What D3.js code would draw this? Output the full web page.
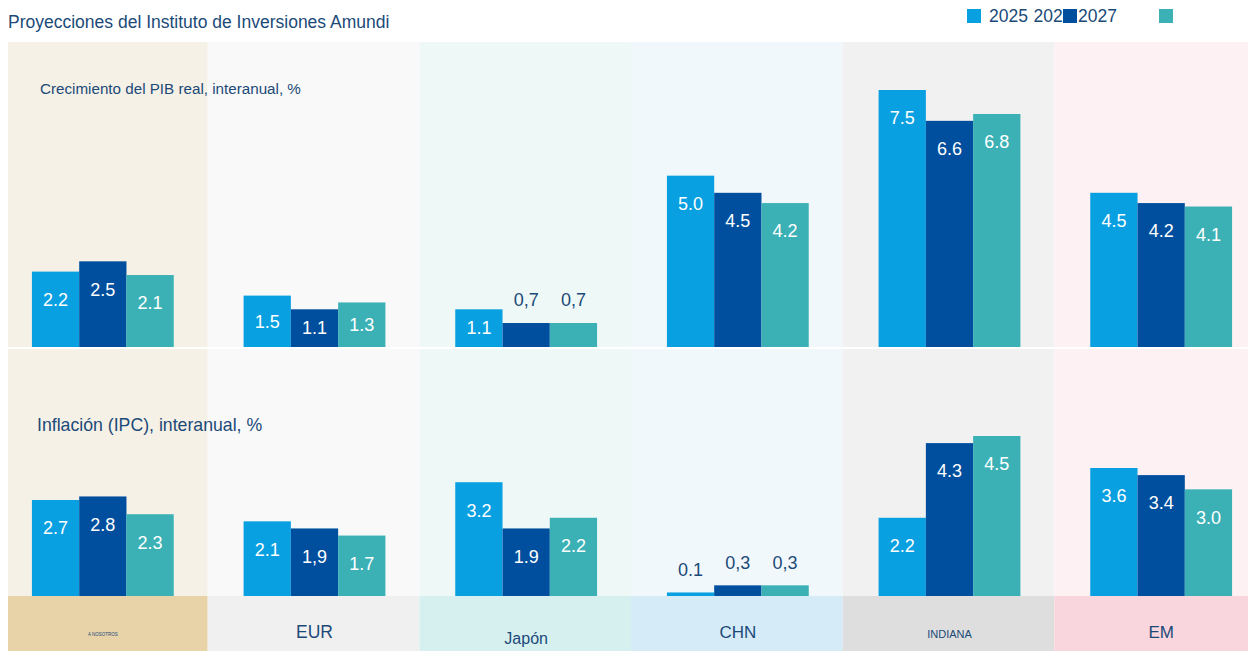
<!DOCTYPE html>
<html>
<head>
<meta charset="utf-8">
<script src="https://cdn.jsdelivr.net/npm/d3@7"></script>
<style>
  body { margin: 0; background: #fff; }
  text { font-family: "Liberation Sans", Arial, sans-serif; }
</style>
</head>
<body>
<div id="chart"></div>
<script>
// data
var regions = ["A NOSOTROS", "EUR", "Japón", "CHN", "INDIANA", "EM"];
var years = ["2025", "2026", "2027"];

var gdp2025 = [2.2, 1.5, 1.1, 5.0, 7.5, 4.5],
    gdp2026 = [2.5, 1.1, 0.7, 4.5, 6.6, 4.2],
    gdp2027 = [2.1, 1.3, 0.7, 4.2, 6.8, 4.1];
var gdpLabels = [["2.2", "2.5", "2.1"], ["1.5", "1.1", "1.3"], ["1.1", "0,7", "0,7"],
                 ["5.0", "4.5", "4.2"], ["7.5", "6.6", "6.8"], ["4.5", "4.2", "4.1"]];

var cpi2025 = [2.7, 2.1, 3.2, 0.1, 2.2, 3.6],
    cpi2026 = [2.8, 1.9, 1.9, 0.3, 4.3, 3.4],
    cpi2027 = [2.3, 1.7, 2.2, 0.3, 4.5, 3.0];
var cpiLabels = [["2.7", "2.8", "2.3"], ["2.1", "1,9", "1.7"], ["3.2", "1.9", "2.2"],
                 ["0.1", "0,3", "0,3"], ["2.2", "4.3", "4.5"], ["3.6", "3.4", "3.0"]];

// styles
var colors = ["#08a0e1", "#004f9e", "#3bb1b6"];
var panelBg = ["#f6f1e7", "#f9f9f9", "#eef8f7", "#f1f8fc", "#f1f1f1", "#fdf1f3"];
var labelBg = ["#e8d3a9", "#f0f0f0", "#d6f0f0", "#d5ebf8", "#dedede", "#f9d6dd"];
var labelSize = [4.5, 17.5, 16, 17, 11, 17];
var labelY = [634, 632, 638, 632, 634, 632];
var navy = "#1b4a78";

var width = 1248, height = 651;
var svg = d3.select("#chart").append("svg")
    .attr("width", width)
    .attr("height", height);

var x = d3.scaleBand()
    .domain(regions)
    .range([-4, 1266]);

var groupW = x.bandwidth() * 0.67;
var x1 = d3.scaleBand()
    .domain(years)
    .range([0, groupW]);

var yTop = d3.scaleLinear().domain([0, 7.5]).range([347, 90]);
var yBot = d3.scaleLinear().domain([0, 4.5]).range([596, 436]);

function clipX(r) { return Math.max(8, x(r)); }
function clipW(r) { return Math.min(width, x(r) + x.bandwidth()) - clipX(r); }

// column backgrounds
svg.append("g").selectAll("rect")
  .data(regions)
  .enter().append("rect")
    .attr("x", clipX)
    .attr("width", clipW)
    .attr("y", 42)
    .attr("height", 554)
    .attr("fill", function(d, i) { return panelBg[i]; });

svg.append("g").selectAll("rect")
  .data(regions)
  .enter().append("rect")
    .attr("x", clipX)
    .attr("width", clipW)
    .attr("y", 596)
    .attr("height", 55)
    .attr("fill", function(d, i) { return labelBg[i]; });

// separator between panels
svg.append("rect")
    .attr("x", 8).attr("width", width - 8)
    .attr("y", 347).attr("height", 2)
    .attr("fill", "#fff");

function panel(series, labels, y) {
  var rows = [];
  regions.forEach(function(r, i) {
    years.forEach(function(yr, j) {
      rows.push({ region: r, year: yr, j: j, value: series[j][i], label: labels[i][j] });
    });
  });
  var off = (x.bandwidth() - groupW) / 2 + 1;
  var g = svg.append("g");
  g.selectAll("rect")
    .data(rows)
    .enter().append("rect")
      .attr("x", function(d) { return x(d.region) + off + x1(d.year); })
      .attr("width", x1.bandwidth())
      .attr("y", function(d) { return y(d.value); })
      .attr("height", function(d) { return y(0) - y(d.value); })
      .attr("fill", function(d) { return colors[d.j]; });

  g.selectAll("text")
    .data(rows)
    .enter().append("text")
      .attr("x", function(d) { return x(d.region) + off + x1(d.year) + x1.bandwidth() / 2; })
      .attr("y", function(d) {
        var h = y(0) - y(d.value);
        if (h < 30) return y(d.value) - 23;
        return y(d.value) + Math.min(28, h / 2);
      })
      .attr("dy", "0.35em")
      .attr("text-anchor", "middle")
      .attr("font-size", 18)
      .attr("fill", function(d) { return (y(0) - y(d.value)) < 30 ? navy : "#fff"; })
      .text(function(d) { return d.label; });
}

panel([gdp2025, gdp2026, gdp2027], gdpLabels, yTop);
panel([cpi2025, cpi2026, cpi2027], cpiLabels, yBot);

// region labels
svg.append("g").selectAll("text")
  .data(regions)
  .enter().append("text")
    .attr("x", function(d) { return x(d) + x.bandwidth() / 2 + 1; })
    .attr("y", function(d, i) { return labelY[i]; })
    .attr("dy", "0.35em")
    .attr("text-anchor", "middle")
    .attr("font-size", function(d, i) { return labelSize[i]; })
    .attr("fill", navy)
    .text(function(d) { return d; });

// titles
svg.append("text")
    .attr("x", 8).attr("y", 22).attr("dy", "0.35em")
    .attr("font-size", 17.5).attr("fill", navy)
    .text("Proyecciones del Instituto de Inversiones Amundi");

svg.append("text")
    .attr("x", 40).attr("y", 89).attr("dy", "0.35em")
    .attr("font-size", 15.2).attr("fill", navy)
    .text("Crecimiento del PIB real, interanual, %");

svg.append("text")
    .attr("x", 37).attr("y", 425).attr("dy", "0.35em")
    .attr("font-size", 17.7).attr("fill", navy)
    .text("Inflación (IPC), interanual, %");

// legend (text drawn first, swatches on top, as in the original)
var legend = svg.append("g");
legend.selectAll("text")
  .data(years)
  .enter().append("text")
    .attr("x", function(d, i) { return 989 + i * 44.5; })
    .attr("y", 16).attr("dy", "0.35em")
    .attr("font-size", 17.5).attr("fill", navy)
    .text(function(d) { return d; });
legend.selectAll("rect")
  .data(years)
  .enter().append("rect")
    .attr("x", function(d, i) { return 967 + i * 96; })
    .attr("y", 9).attr("width", 14).attr("height", 14)
    .attr("fill", function(d, i) { return colors[i]; });
</script>
</body>
</html>
